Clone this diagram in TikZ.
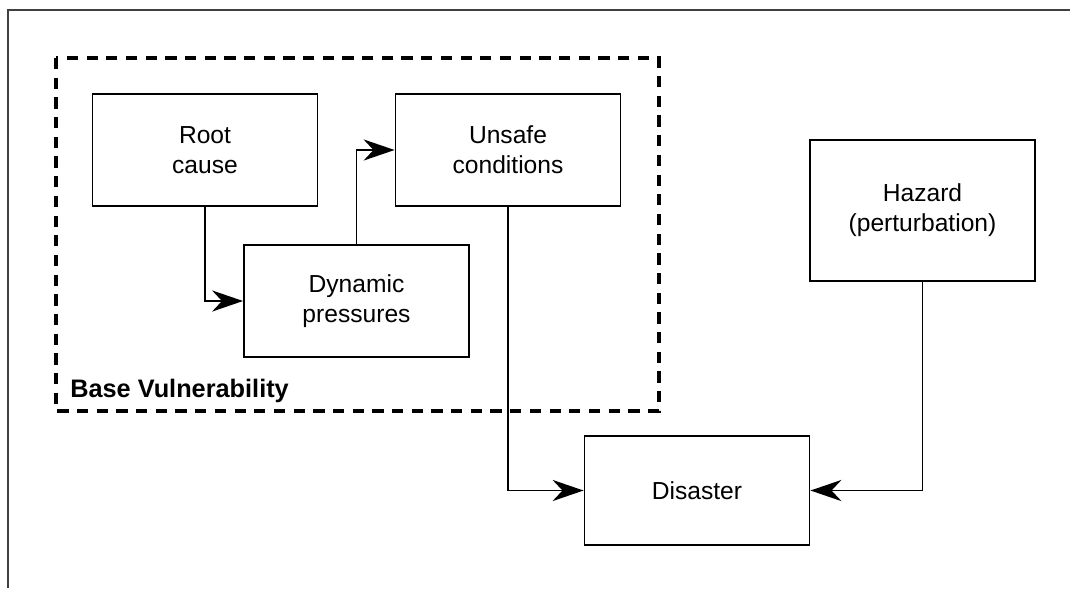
\documentclass[tikz,border=0pt]{standalone}
\usepackage{fontspec}
\setmainfont{Liberation Sans}
\usepackage{tikz}
\usetikzlibrary{arrows.meta,positioning}
\tikzset{>={Stealth[length=22pt,width=15pt,inset=7pt]}}
\tikzset{
  block/.style={draw,line width=1.3pt,align=center,inner sep=0pt,
    minimum width=5.625cm,minimum height=2.8cm,
    font=\fontsize{17.5}{21.5}\selectfont},
  link/.style={->,line width=1.3pt},
  vulnbox/.style={line width=2.6pt,dash pattern=on 8pt off 6pt},
}

\begin{document}
\begin{tikzpicture}[x=0.025cm,y=-0.025cm]
\useasboundingbox (0,0) rectangle (1070,588);

% Frame
\draw[line width=1.2pt,black!75] (8,588) -- (8,10) -- (1070,10);

% Base vulnerability
\draw[vulnbox] (56,58) rectangle (659,411);
\node[anchor=base west,inner sep=0pt,font=\fontsize{18}{20}\bfseries\selectfont] (basevul) at (70,397) {Base Vulnerability};

% Blocks
\node[block] (root) at (205,150) {Root\\cause};
\node[block] (unsafe) at (508,150) {Unsafe\\conditions};
\node[block] (dyn) at (356.5,301) {Dynamic\\pressures};
\node[block,minimum height=3.525cm] (hazard) at (922.5,210.5) {Hazard\\(perturbation)};
\node[block,minimum height=2.725cm] (disaster) at (697,490.5) {Disaster};

% Links
\draw[link] (root.south) |- (dyn.west);
\draw[link] (dyn.north) |- (unsafe.west);
\draw[link] (unsafe.south) |- (disaster.west);
\draw[link] (hazard.south) |- (disaster.east);

\end{tikzpicture}
\end{document}
